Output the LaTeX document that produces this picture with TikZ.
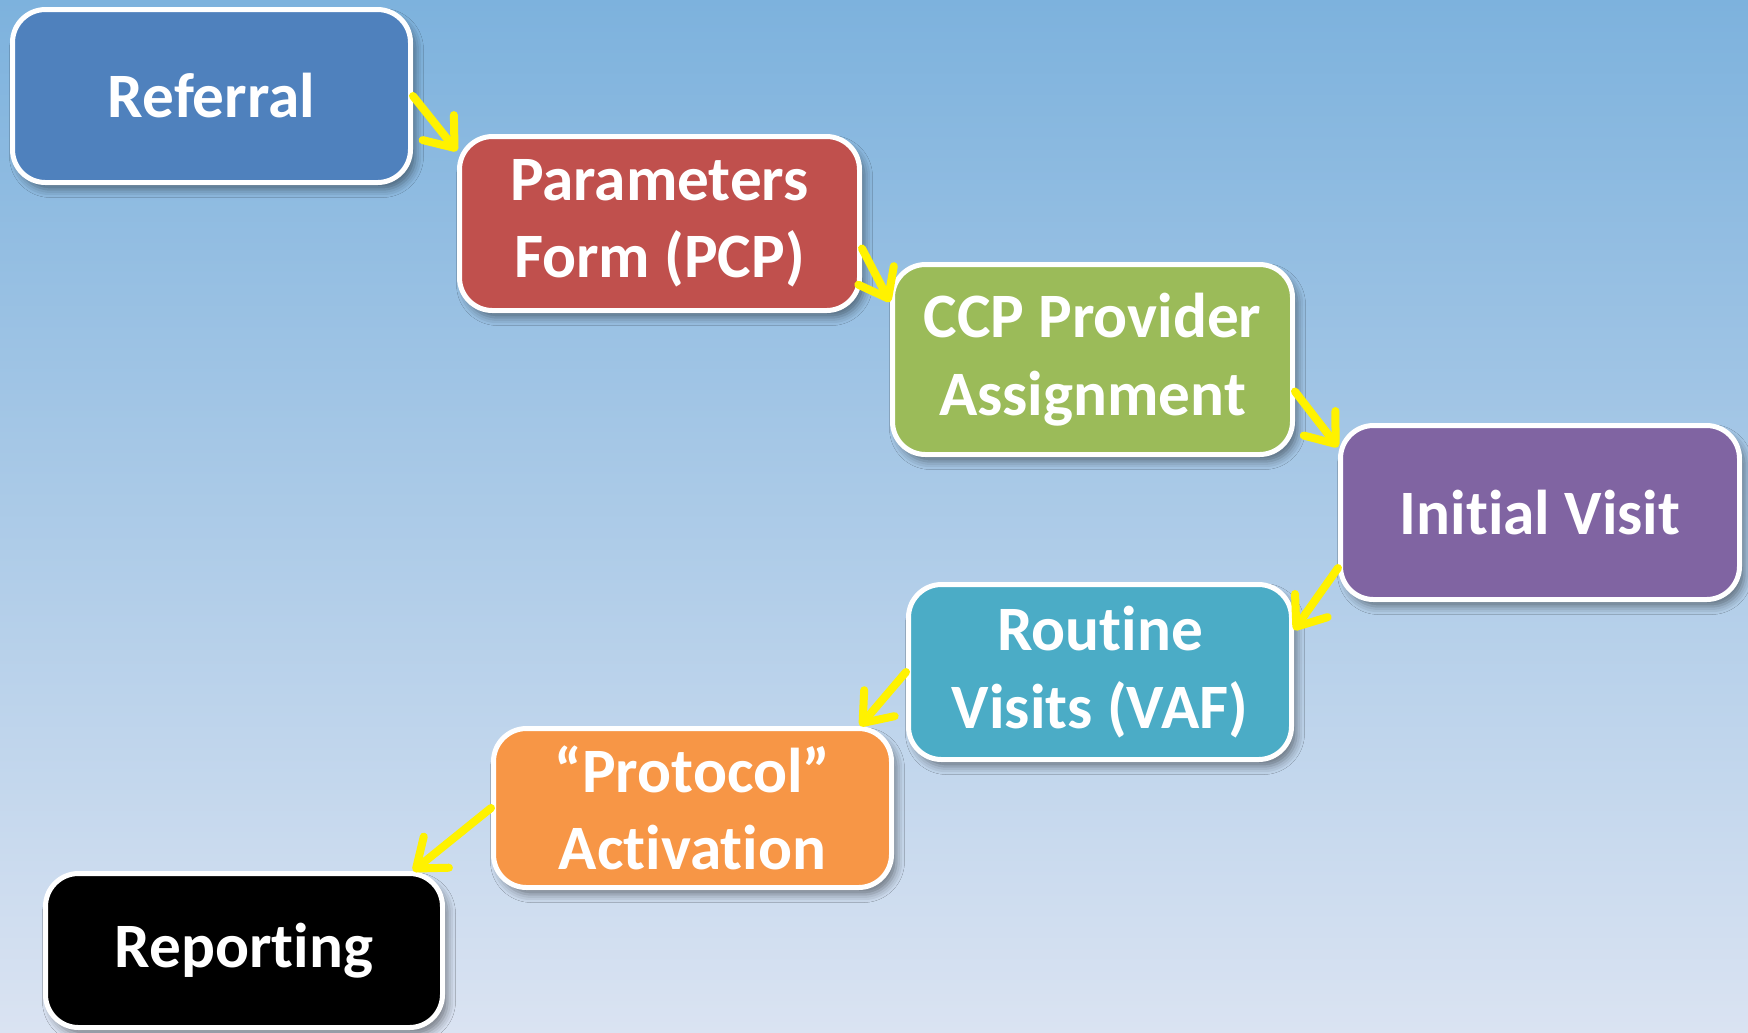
\documentclass[tikz,border=0pt]{standalone}
\usepackage{fontspec}
\setmainfont{Carlito}[Ligatures={TeX,NoCommon}]
\usetikzlibrary{arrows.meta,calc,shadows.blur}

\definecolor{bgtop}{RGB}{125,178,221}
\definecolor{bgmid}{RGB}{188,205,233}
\definecolor{bgbot}{RGB}{218,227,242}
\definecolor{refblue}{RGB}{79,129,189}
\definecolor{pcpred}{RGB}{192,80,77}
\definecolor{ccpgreen}{RGB}{155,187,89}
\definecolor{visitpurple}{RGB}{128,100,162}
\definecolor{vafcyan}{RGB}{75,172,198}
\definecolor{protorange}{RGB}{247,150,70}

\begin{document}
\begin{tikzpicture}[
  stage/.style={draw=white, line width=0.05cm, rounded corners=0.33cm,
    text=white, align=center, inner sep=0pt,
    font=\bfseries\fontsize{18}{22}\selectfont,
    blur shadow={shadow xshift=0.05cm, shadow yshift=-0.07cm, shadow blur radius=0.08cm, shadow opacity=45}},
  flow/.style={draw=yellow, line width=0.08cm, line cap=round,
    -{Straight Barb[length=0.26cm,width=0.4cm,round]}}]

\useasboundingbox (0,0) rectangle (17.48,-10.32);
\shade[top color=bgtop, middle color=bgmid, bottom color=bgbot] (0,0) rectangle (17.48,-10.32);

% the stages, top left to bottom left
\node[stage, fill=refblue, minimum width=3.98cm, minimum height=1.73cm] (ref) at (2.115,-0.96) {Referral};
\node[stage, fill=pcpred, minimum width=4.00cm, minimum height=1.74cm] (pcp) at (6.595,-2.235) {Parameters\\Form (PCP)};
\node[stage, fill=ccpgreen, minimum width=4.00cm, minimum height=1.90cm] (ccp) at (10.925,-3.595) {CCP Provider\\Assignment};
\node[stage, fill=visitpurple, minimum width=3.99cm, minimum height=1.74cm] (init) at (15.40,-5.125) {Initial Visit};
\node[stage, fill=vafcyan, minimum width=3.83cm, minimum height=1.75cm] (vaf) at (11.00,-6.72) {Routine\\Visits (VAF)};
\node[stage, fill=protorange, minimum width=3.98cm, minimum height=1.59cm] (prot) at (6.925,-8.08) {“Protocol”\\Activation};
\node[stage, fill=black, minimum width=3.97cm, minimum height=1.54cm] (rep) at (2.44,-9.505) {Reporting};

% yellow arrows between the stages
\draw[flow] (ref.east) -- ($(pcp.north west)+(0,-0.17)$);
\draw[flow] ($(pcp.east)+(0,-0.25)$) -- ($(ccp.north west)+(0,-0.40)$);
\draw[flow] ($(ccp.east)+(0,-0.32)$) -- ($(init.north west)+(0,-0.24)$);
\draw[flow] ($(init.south west)+(0,0.34)$) -- ($(vaf.north east)+(0,-0.48)$);
\draw[flow] (vaf.west) -- ($(prot.north east)+(-0.34,0)$);
\draw[flow] (prot.west) -- ($(rep.north east)+(-0.32,0)$);
\end{tikzpicture}
\end{document}
